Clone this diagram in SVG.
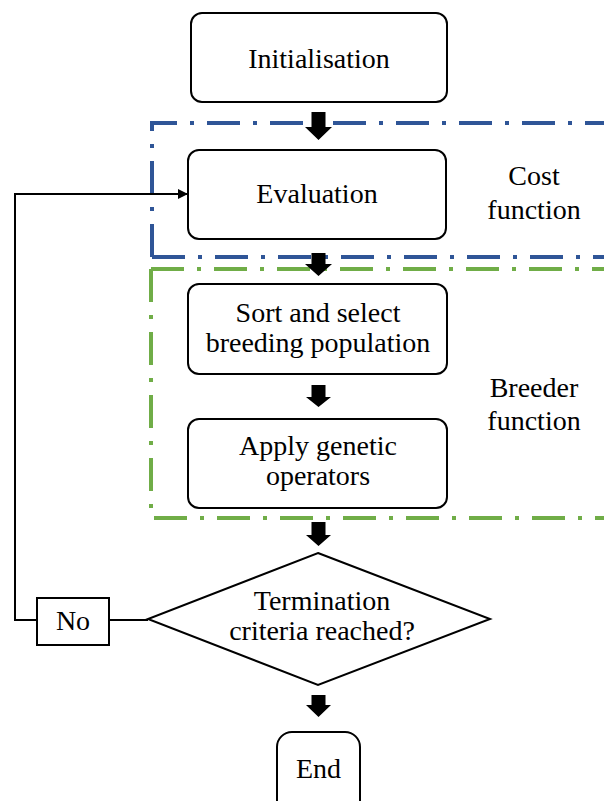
<svg xmlns="http://www.w3.org/2000/svg" width="604" height="801" viewBox="0 0 604 801">
<style>
  .box { fill: #fff; stroke: #000; stroke-width: 2; }
  .t { font-family: "Liberation Serif", "Times New Roman", serif; font-size: 28px; fill: #000; text-anchor: middle; }
  .line { fill: none; stroke: #000; stroke-width: 2; }
  .blk { fill: #000; }
  .dd { fill: none; stroke-width: 4; stroke-dasharray: 33 13 4 13; }
</style>
<defs>
  <marker id="ah" markerWidth="10" markerHeight="10" refX="10" refY="5" orient="auto" markerUnits="userSpaceOnUse">
    <path d="M0,0 L10,5 L0,10 z" fill="#000"/>
  </marker>
</defs>
<rect width="604" height="801" fill="#fff"/>

<g id="regions">
  <path class="dd" stroke="#2F5597" d="M152,257 V123 H620"/>
  <path class="dd" stroke="#2F5597" d="M152,257 H620"/>
  <path class="dd" stroke="#70AD47" d="M151,269 H620"/>
  <path class="dd" stroke="#70AD47" d="M151,269 V518 H620"/>
</g>

<g id="connectors">
  <path class="blk" d="M311.5,112 H325.5 V127 H332 L318.5,140 L305,127 H311.5 z"/>
  <path class="blk" d="M311.5,253 H325.5 V264 H332 L318.5,276 L305,264 H311.5 z"/>
  <path class="blk" d="M311.5,385 H325.5 V397 H331 L318.5,407 L306,397 H311.5 z"/>
  <path class="blk" d="M311.5,522 H325.5 V535 H331 L318.5,546 L306,535 H311.5 z"/>
  <path class="blk" d="M311.5,695 H325.5 V705 H331 L318.5,717 L306,705 H311.5 z"/>
  <path class="line" d="M148,620 H109"/>
  <path class="line" d="M37,620 H15 V194 H188" marker-end="url(#ah)"/>
</g>

<g id="initialisation">
  <rect class="box" x="191" y="13" width="256" height="89" rx="11"/>
  <text class="t" x="319" y="68">Initialisation</text>
</g>
<g id="evaluation">
  <rect class="box" x="188" y="150" width="258" height="89" rx="11"/>
  <text class="t" x="317" y="203">Evaluation</text>
</g>
<g id="sort">
  <rect class="box" x="188" y="284" width="259" height="90" rx="11"/>
  <text class="t" x="318" y="322">Sort and select</text>
  <text class="t" x="318" y="352">breeding population</text>
</g>
<g id="apply">
  <rect class="box" x="188" y="419" width="259" height="89" rx="11"/>
  <text class="t" x="318" y="455">Apply genetic</text>
  <text class="t" x="318" y="485">operators</text>
</g>
<g id="cost-label">
  <text class="t" x="534" y="185">Cost</text>
  <text class="t" x="534" y="219">function</text>
</g>
<g id="breeder-label">
  <text class="t" x="534" y="397">Breeder</text>
  <text class="t" x="534" y="430">function</text>
</g>
<g id="termination">
  <path class="box" d="M318,553 L490,619 L318,685 L148,619 z"/>
  <text class="t" x="322" y="610">Termination</text>
  <text class="t" x="322" y="640">criteria reached?</text>
</g>
<g id="no">
  <rect class="box" x="37" y="598" width="72" height="47"/>
  <text class="t" x="73" y="630">No</text>
</g>
<g id="end">
  <rect class="box" x="277" y="732" width="83" height="90" rx="15"/>
  <text class="t" x="318.5" y="778">End</text>
</g>
</svg>
